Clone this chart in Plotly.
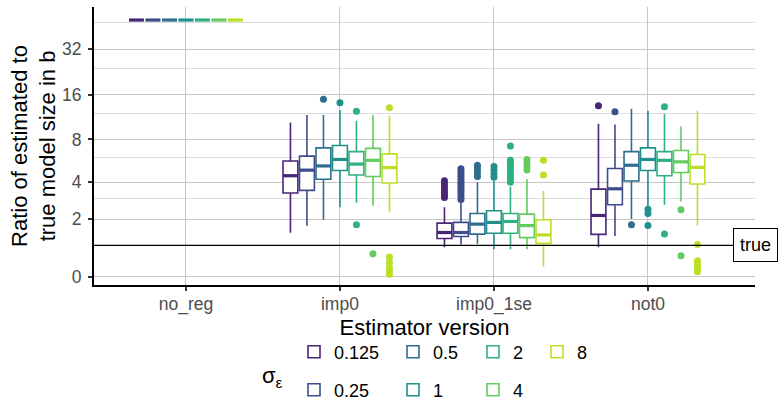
import numpy as np
import plotly.graph_objects as go

# ---------------- data ----------------
CATEGORIES = ["no_reg", "imp0", "imp0_1se", "not0"]
SIGMAS = ["0.125", "0.25", "0.5", "1", "2", "4", "8"]

# per sigma: values for [no_reg, imp0, imp0_1se, not0]
WHISKER_LO = [
    [50, 1.45, 0.94, 0.94],
    [50, 1.72, 1.03, 1.33],
    [50, 1.97, 1.06, 2.00],
    [50, 2.55, 0.87, 2.58],
    [50, 2.78, 0.87, 2.67],
    [50, 2.62, 0.87, 2.84],
    [50, 2.31, 0.32, 1.73],
]
Q1 = [
    [50, 3.31, 1.24, 1.39],
    [50, 3.47, 1.31, 2.67],
    [50, 4.20, 1.40, 4.08],
    [50, 4.86, 1.43, 4.86],
    [50, 4.51, 1.43, 4.46],
    [50, 4.40, 1.27, 4.70],
    [50, 3.94, 1.07, 3.88],
]
MEDIAN = [
    [50, 4.46, 1.46, 2.16],
    [50, 4.89, 1.46, 3.57],
    [50, 5.24, 1.79, 5.30],
    [50, 5.82, 1.86, 5.82],
    [50, 5.40, 1.90, 5.74],
    [50, 5.74, 1.73, 5.60],
    [50, 5.10, 1.37, 5.12],
]
Q3 = [
    [50, 5.68, 1.83, 3.55],
    [50, 6.14, 1.86, 5.03],
    [50, 7.00, 2.25, 6.60],
    [50, 7.27, 2.38, 7.00],
    [50, 6.60, 2.25, 6.60],
    [50, 6.95, 2.22, 6.72],
    [50, 6.36, 1.97, 6.30],
]
WHISKER_HI = [
    [50, 10.4, 2.55, 10.2],
    [50, 11.7, 2.78, 10.1],
    [50, 11.7, 4.00, 12.9],
    [50, 12.6, 4.10, 12.5],
    [50, 10.7, 3.70, 11.9],
    [50, 11.7, 4.20, 9.8],
    [50, 11.6, 3.43, 12.5],
]
# outliers per sigma: category -> values
OUTLIERS = [
    {"imp0_1se": [4.1, 3.9, 3.7, 3.5, 3.35, 3.2, 3.05], "not0": [13.5]},
    {"imp0_1se": [5.0, 4.8, 4.6, 4.4, 4.2, 4.0, 3.85, 3.7, 3.55, 3.4, 3.25, 3.1, 2.95],
     "not0": [12.3]},
    {"imp0": [14.9], "imp0_1se": [5.3, 5.0, 4.7, 4.4], "not0": [1.76]},
    {"imp0": [14.1], "imp0_1se": [5.2, 4.9, 4.6, 4.35], "not0": [2.45, 2.25, 1.73]},
    {"imp0": [12.4, 1.76], "imp0_1se": [7.2, 5.74, 5.5, 5.25, 5.0, 4.75, 4.5, 4.25, 4.0],
     "not0": [13.3, 1.4]},
    {"imp0": [0.72], "imp0_1se": [5.82, 5.5, 5.2, 4.9], "not0": [2.43, 0.66]},
    {"imp0": [13.1, 0.62, 0.45, 0.3, 0.18, 0.08], "imp0_1se": [5.74, 4.51],
     "not0": [1.03, 0.5, 0.4, 0.3, 0.2, 0.16]},
]
TRUE_RATIO = 1
Y_TICKS = [0, 2, 4, 8, 16, 32]
Y_MINOR = [1, 3, 6, 12, 24, 48]

# ---------------- styles ----------------
COLORS = ["#482576", "#3F4C8A", "#2F6C8E", "#21908C", "#2DB17E", "#65CB5E", "#BBDF27"]
FONT = "Liberation Sans, Arial, sans-serif"
DODGE = 0.75
NS = len(SIGMAS)
SLOT = DODGE / NS
BW = SLOT * 0.9

W, H = 778, 407
ML, MR, MT, MB = 94, 23, 7, 122
PW, PH = W - ML - MR, H - MT - MB

# legend placement (pixel, left edge of legend box / vertical centre)
LEG_COLS_PX = [294, 393, 473, 537]
LEG_ROWS_PX = [352, 390]


def pseudo_log(v):
    return np.arcsinh(np.asarray(v, dtype=float) / 2.0)


def px_to_paper_x(px):
    return (px - ML) / PW


def px_to_paper_y(py):
    return (H - MB - py) / PH


fig = go.Figure()

cat_idx = np.arange(len(CATEGORIES))
for j, (sig, col) in enumerate(zip(SIGMAS, COLORS)):
    pos = cat_idx + (j - (NS - 1) / 2) * SLOT
    legname = "legend" if j == 0 else f"legend{j + 1}"
    fig.add_trace(go.Box(
        x=pos,
        q1=pseudo_log(Q1[j]),
        median=pseudo_log(MEDIAN[j]),
        q3=pseudo_log(Q3[j]),
        lowerfence=pseudo_log(WHISKER_LO[j]),
        upperfence=pseudo_log(WHISKER_HI[j]),
        width=BW,
        fillcolor="white",
        line=dict(color=col, width=1.6),
        whiskerwidth=0,
        boxpoints=False,
        name=sig,
        legend=legname,
        showlegend=True,
        hoverinfo="skip",
    ))
    # thicker median line (ggplot style)
    mx, my = [], []
    for p, m in zip(pos, pseudo_log(MEDIAN[j])):
        mx += [p - BW / 2, p + BW / 2, None]
        my += [m, m, None]
    fig.add_trace(go.Scatter(x=mx, y=my, mode="lines",
                             line=dict(color=col, width=3.2),
                             showlegend=False, hoverinfo="skip"))
    # outliers
    ox, oy = [], []
    for cat, vals in OUTLIERS[j].items():
        p = pos[CATEGORIES.index(cat)]
        ox += [p] * len(vals)
        oy += list(pseudo_log(vals))
    fig.add_trace(go.Scatter(x=ox, y=oy, mode="markers",
                             marker=dict(color=col, size=7),
                             showlegend=False, hoverinfo="skip"))

fig.add_hline(y=float(pseudo_log(TRUE_RATIO)), line=dict(color="black", width=1.3),
              layer="above")

fig.add_annotation(x=1, xref="paper", y=float(pseudo_log(TRUE_RATIO)), yref="y",
                   text="true", showarrow=False, xanchor="center", yanchor="middle",
                   font=dict(size=18, color="black", family=FONT),
                   bgcolor="white", bordercolor="black", borderwidth=1, borderpad=6)

# legend title
fig.add_annotation(x=px_to_paper_x(272), xref="paper", y=px_to_paper_y(377), yref="paper",
                   text="σ<sub>ε</sub>", showarrow=False, xanchor="center", yanchor="middle",
                   font=dict(size=22, color="black", family=FONT))

# legends: column-major like ggplot (2 rows)
legends = {}
for j in range(NS):
    col_i, row_i = j // 2, j % 2
    key = "legend" if j == 0 else f"legend{j + 1}"
    legends[key] = dict(
        x=px_to_paper_x(LEG_COLS_PX[col_i]), xanchor="left",
        y=px_to_paper_y(LEG_ROWS_PX[row_i]), yanchor="middle",
        xref="paper", yref="paper",
        orientation="h", bgcolor="rgba(0,0,0,0)",
        font=dict(size=18, color="black", family=FONT),
        itemclick=False, itemdoubleclick=False,
    )

fig.update_layout(
    width=W, height=H,
    margin=dict(l=ML, r=MR, t=MT, b=MB, autoexpand=False),
    paper_bgcolor="white", plot_bgcolor="white",
    font=dict(family=FONT, color="black"),
    boxmode="overlay",
    **legends,
)

fig.update_xaxes(
    range=[-0.597, 3.695],
    tickmode="array", tickvals=list(cat_idx), ticktext=CATEGORIES,
    showgrid=True, gridcolor="#C6C6C6", gridwidth=1,
    zeroline=False,
    showline=True, linecolor="black", linewidth=2,
    ticks="outside", ticklen=4, tickwidth=1.5, tickcolor="#333333",
    ticklabelstandoff=-2,
    tickfont=dict(size=17.5, color="#4D4D4D", family=FONT),
    title=dict(text="Estimator version", font=dict(size=22, color="black", family=FONT),
               standoff=4),
)

fig.update_yaxes(
    range=[-0.122, 4.111],
    tickmode="array", tickvals=list(pseudo_log(Y_TICKS)), ticktext=[str(t) for t in Y_TICKS],
    showgrid=True, gridcolor="#C6C6C6", gridwidth=1,
    minor=dict(tickmode="array", tickvals=list(pseudo_log(Y_MINOR)), showgrid=True,
               gridcolor="#DCDCDC", gridwidth=1, ticks=""),
    zeroline=False,
    showline=True, linecolor="black", linewidth=2,
    ticks="outside", ticklen=4, tickwidth=1.5, tickcolor="#333333",
    ticklabelstandoff=3,
    tickfont=dict(size=17.5, color="#4D4D4D", family=FONT),
    title=dict(text="Ratio of estimated to<br>true model size in b",
               font=dict(size=22, color="black", family=FONT), standoff=0),
)

fig.write_html("out.html")
